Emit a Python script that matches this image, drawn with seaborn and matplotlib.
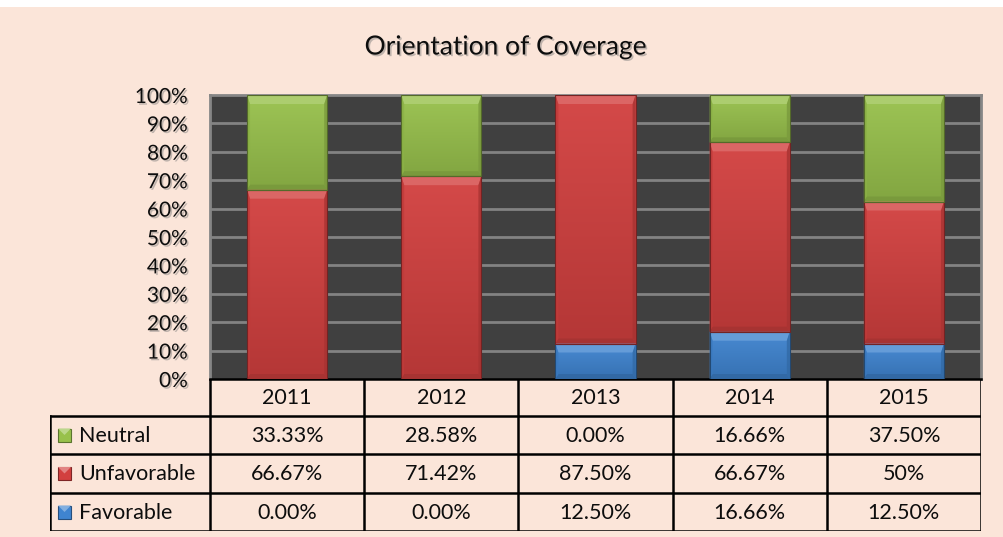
import matplotlib

matplotlib.use("Agg")

import matplotlib.pyplot as plt
import matplotlib.patheffects as pe
import numpy as np
import pandas as pd
import seaborn as sns
from matplotlib.colors import to_rgb
from matplotlib.patches import Polygon, Rectangle


years = ["2011", "2012", "2013", "2014", "2015"]
series = ["Neutral", "Unfavorable", "Favorable"]
neutral = [33.33, 28.58, 0.00, 16.66, 37.50]
unfavorable = [66.67, 71.42, 87.50, 66.67, 50.00]
favorable = [0.00, 0.00, 12.50, 16.66, 12.50]
neutral_labels = ["33.33%", "28.58%", "0.00%", "16.66%", "37.50%"]
unfavorable_labels = ["66.67%", "71.42%", "87.50%", "66.67%", "50%"]
favorable_labels = ["0.00%", "0.00%", "12.50%", "16.66%", "12.50%"]
y_ticks = [0, 10, 20, 30, 40, 50, 60, 70, 80, 90, 100]

COLORS = {"Neutral": "#98C14C", "Unfavorable": "#D2403F", "Favorable": "#3F84D0"}
PEACH = "#FBE5D9"
FONT = ["Lato", "DejaVu Sans"]
TEXT = "#0D0D0D"


def shade(color, factor):
    """factor > 0 lightens toward white, < 0 darkens toward black."""
    rgb = np.array(to_rgb(color))
    if factor >= 0:
        return tuple(rgb + (1 - rgb) * factor)
    return tuple(rgb * (1 + factor))


def add_bevel(ax, patch, color, top=9, bottom=5, side=3):
    """Draw an Excel-like angle bevel on a bar segment, sizes in pixels."""
    x0, y0 = patch.get_x(), patch.get_y()
    x1, y1 = x0 + patch.get_width(), y0 + patch.get_height()
    to_px = ax.transData.transform
    to_data = ax.transData.inverted().transform
    (px0, py0), (px1, py1) = to_px([(x0, y0), (x1, y1)])
    h = py1 - py0
    t = min(top, h / 2.5)
    b = min(bottom, h / 4)

    # vertical gradient body clipped to the bar
    grad = np.linspace(0, 1, 64)[:, None]
    light, dark = np.array(shade(color, 0.05)), np.array(shade(color, -0.14))
    img = light * (1 - grad[..., None]) + dark * grad[..., None]
    im = ax.imshow(img, extent=(x0, x1, y0, y1), aspect="auto", zorder=3,
                   interpolation="bilinear", origin="upper")
    im.set_clip_path(patch)

    pieces = [
        ([(px0, py1), (px1, py1), (px1 - side, py1 - t), (px0 + side, py1 - t)], shade(color, 0.22), 0.9),
        ([(px0, py0), (px1, py0), (px1 - side, py0 + b), (px0 + side, py0 + b)], shade(color, -0.22), 0.8),
        ([(px0, py0), (px0 + side, py0 + b), (px0 + side, py1 - t), (px0, py1)], shade(color, -0.08), 0.8),
        ([(px1, py0), (px1 - side, py0 + b), (px1 - side, py1 - t), (px1, py1)], shade(color, -0.2), 0.8),
    ]
    for pts, c, a in pieces:
        ax.add_patch(Polygon(to_data(pts), closed=True, facecolor=c, alpha=a,
                             edgecolor="none", zorder=4))
    ax.add_patch(Rectangle((x0, y0), x1 - x0, y1 - y0, facecolor="none",
                           edgecolor=shade(color, -0.45), linewidth=0.8, zorder=5))


sns.set_style("white")
plt.rcParams["font.family"] = FONT

W, H = 1004, 537
fig = plt.figure(figsize=(W / 100, H / 100), dpi=100, facecolor=PEACH)
fig.patches.append(Rectangle((0, 1 - 7 / H), 1, 7 / H, transform=fig.transFigure,
                             facecolor="white", edgecolor="none", zorder=0))

# plot area in pixel coordinates
left, right, top, bottom = 210, 981, 95, 379
ax = fig.add_axes([left / W, 1 - bottom / H, (right - left) / W, (bottom - top) / H])
ax.set_facecolor("#404040")

df = pd.DataFrame({"year": years, "Neutral": neutral,
                   "Unfavorable": unfavorable, "Favorable": favorable})
base = np.zeros(len(years))
for name in ["Favorable", "Unfavorable", "Neutral"]:
    sns.barplot(data=df, x="year", y=name, color=COLORS[name], saturation=1,
                width=0.52, bottom=base.copy(), ax=ax, zorder=2, linewidth=0)
    base = base + df[name].to_numpy()

ax.set_xlim(-0.5, len(years) - 0.5)
ax.set_ylim(0, 100)
ax.set_yticks(y_ticks)
ax.set_yticklabels([f"{v}%" for v in y_ticks])
ax.set_xticks([])
ax.set_xlabel("")
ax.set_ylabel("")
ax.tick_params(axis="y", length=0, pad=16, labelsize=15, colors=TEXT)
shadow = [pe.withSimplePatchShadow(offset=(1.2, -1.2), shadow_rgbFace="#777777", alpha=0.45)]
for lab in ax.get_yticklabels():
    lab.set_path_effects(shadow)
for v in y_ticks[1:-1]:
    ax.axhline(v, color="#838383", linewidth=2, zorder=1)
for side in ["left", "top", "right"]:
    ax.spines[side].set_color("#868686")
    ax.spines[side].set_linewidth(2)
ax.spines["bottom"].set_color("black")
ax.spines["bottom"].set_linewidth(1.8)

seg_colors = []
for name in ["Favorable", "Unfavorable", "Neutral"]:
    seg_colors += [COLORS[name]] * len(years)
for patch, c in zip(list(ax.patches), seg_colors):
    if patch.get_height() > 0:
        add_bevel(ax, patch, c)

fig.text(506 / W, 1 - 47 / H, "Orientation of Coverage", ha="center", va="center",
         fontsize=19, color=TEXT, path_effects=shadow)

# data table below the plot area, in pixel coordinates
tab_left, tab_top, tab_bottom = 50, 379, 531
tax = fig.add_axes([tab_left / W, 1 - tab_bottom / H, (right - tab_left) / W, (tab_bottom - tab_top) / H])
tax.set_xlim(tab_left, right)
tax.set_ylim(tab_bottom, tab_top)
tax.axis("off")

rows = [379, 416, 454, 493, 531]
cols = [left + i * (right - left) / len(years) for i in range(len(years) + 1)]
lw = 1.8
for x in cols:
    tax.plot([x, x], [rows[0], rows[-1]], color="black", lw=lw, solid_capstyle="projecting")
tax.plot([tab_left, tab_left], [rows[1], rows[-1]], color="black", lw=lw, solid_capstyle="projecting")
for y in rows[1:]:
    tax.plot([tab_left, right], [y, y], color="black", lw=lw, solid_capstyle="projecting")

fs = 15.5
for i, yr in enumerate(years):
    tax.text((cols[i] + cols[i + 1]) / 2, (rows[0] + rows[1]) / 2 + 1, yr,
             ha="center", va="center", fontsize=fs, color=TEXT)

table_labels = [neutral_labels, unfavorable_labels, favorable_labels]
for r, (name, labels) in enumerate(zip(series, table_labels)):
    yc = (rows[r + 1] + rows[r + 2]) / 2
    key = Rectangle((58, yc - 6.5), 13, 13, facecolor=COLORS[name],
                    edgecolor=shade(COLORS[name], -0.4), lw=0.8)
    tax.add_patch(key)
    tax.add_patch(Polygon([(58, yc - 6.5), (71, yc - 6.5), (64.5, yc)], closed=True,
                          facecolor=shade(COLORS[name], 0.35), edgecolor="none"))
    tax.text(79, yc + 1, name, ha="left", va="center", fontsize=fs, color=TEXT)
    for i, lab in enumerate(labels):
        tax.text((cols[i] + cols[i + 1]) / 2, yc + 1, lab,
                 ha="center", va="center", fontsize=fs, color=TEXT)

fig.savefig("out.png", dpi=100, facecolor=fig.get_facecolor())
